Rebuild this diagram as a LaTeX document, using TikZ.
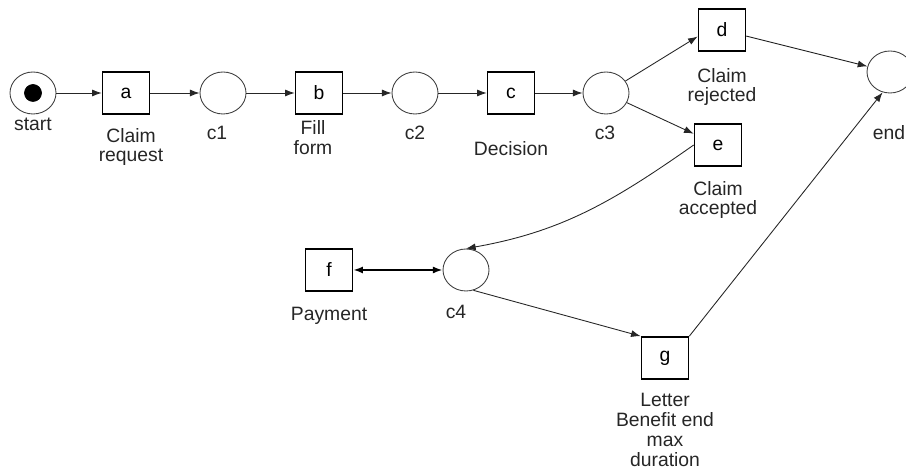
\documentclass[tikz,border=0pt]{standalone}
\usepackage{fontspec}
\setmainfont{Liberation Sans}
\usepackage{tikz}
\usetikzlibrary{arrows.meta,shapes.geometric}
\tikzset{>={Latex[length=5.5pt,width=4pt]}}
\tikzset{
  place/.style={ellipse, draw=black!75, line width=0.5pt, minimum width=0.92cm, minimum height=0.84cm, inner sep=0pt},
  trans/.style={rectangle, draw=black, line width=0.9pt, minimum width=0.94cm, minimum height=0.84cm, inner sep=0pt, font=\fontsize{11}{11.3}\selectfont},
  lab/.style={align=center, text=black!85, font=\fontsize{11}{11.3}\selectfont},
  arc/.style={->, draw=black!85, line width=0.5pt}
}
\begin{document}
\begin{tikzpicture}
            \useasboundingbox (0,0) rectangle (18.12,9.36);

            % places
            \node[place] (start) at (0.66,7.50) {};
            \node[circle, fill=black, draw=black, inner sep=0pt, minimum size=0.34cm] (token) at (start) {};
            \node[place] (c1) at (4.46,7.50) {};
            \node[place] (c2) at (8.30,7.50) {};
            \node[place] (c3) at (12.12,7.50) {};
            \node[place] (end) at (17.80,7.92) {};
            \node[place] (c4) at (9.32,3.96) {};

            % transitions
            \node[trans] (a) at (2.52,7.50) {a};
            \node[trans] (b) at (6.38,7.50) {b};
            \node[trans] (c) at (10.22,7.50) {c};
            \node[trans] (d) at (14.44,8.76) {d};
            \node[trans] (e) at (14.36,6.46) {e};
            \node[trans] (f) at (6.58,3.96) {f};
            \node[trans] (g) at (13.30,2.20) {g};

            % labels
            \node[lab] (lstart) at (0.66,6.88) {start};
            \node[lab] (la) at (2.62,6.42) {Claim\\request};
            \node[lab] (lc1) at (4.34,6.70) {c1};
            \node[lab] (lb) at (6.26,6.60) {Fill\\form};
            \node[lab] (lc2) at (8.30,6.70) {c2};
            \node[lab] (lc) at (10.22,6.38) {Decision};
            \node[lab] (lc3) at (12.10,6.70) {c3};
            \node[lab] (ld) at (14.44,7.62) {Claim\\rejected};
            \node[lab] (le) at (14.36,5.36) {Claim\\accepted};
            \node[lab] (lend) at (17.78,6.70) {end};
            \node[lab] (lf) at (6.58,3.04) {Payment};
            \node[lab] (lc4) at (9.12,3.12) {c4};
            \node[lab] (lg) at (13.30,0.76) {Letter\\Benefit end\\max\\duration};

            % arcs
            \draw[arc] (start) -- (a);
            \draw[arc] (a) -- (c1);
            \draw[arc] (c1) -- (b);
            \draw[arc] (b) -- (c2);
            \draw[arc] (c2) -- (c);
            \draw[arc] (c) -- (c3);
            \draw[arc] (c3) -- (d.195);
            \draw[arc] (c3) -- (e);
            \draw[arc] (d) -- (end);
            \draw[arc] (e.west) to[out=215,in=10] (c4.north);
            \draw[<->, draw=black, line width=1pt] (f) -- (c4);
            \draw[arc] (c4.290) -- (g.north west);
            \draw[arc] (g.north east) -- (end.250);
\end{tikzpicture}
\end{document}
